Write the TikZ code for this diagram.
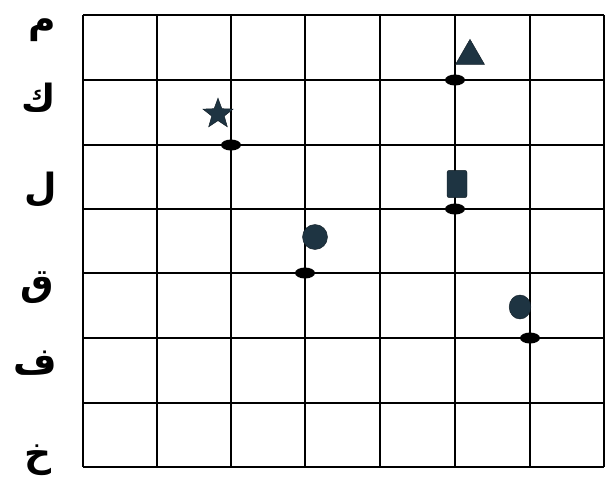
\documentclass[tikz,border=0pt]{standalone}
\usepackage{fontspec}
\newfontfamily\arabicfont[Script=Arabic]{DejaVu Sans}
\TeXXeTstate=1
\usetikzlibrary{shapes.geometric}
\definecolor{symbblue}{HTML}{1E3442}
\tikzset{
  gridline/.style={line width=2.5pt, black},
  letter/.style={font=\arabicfont\bfseries\fontsize{32}{36}\selectfont, inner sep=0pt},
  dot/.style={ellipse, fill=black, minimum width=0.6cm, minimum height=0.33cm, inner sep=0pt},
  symb/.style={fill=symbblue, draw=symbblue!60!black, inner sep=0pt}
}
\begin{document}
\begin{tikzpicture}[x=0.03cm, y=-0.03cm]
    \useasboundingbox (0,0) rectangle (606,500);

    \foreach \x in {83,157,231,305,380,455,530,604}
        \draw[gridline] (\x,15) -- (\x,467);
    \foreach \y in {15,80,145,209,273,338,403,467}
        \draw[gridline] (83,\y) -- (604,\y);

    \node[letter] (lblM) at (42,30) {\beginR م\endR};
    \node[letter] (lblK) at (39,98) {\beginR ك\endR};
    \node[letter] (lblL) at (41,190) {\beginR ل\endR};
    \node[letter] (lblQ) at (37,288) {\beginR ق\endR};
    \node[letter] (lblF) at (35,363) {\beginR ف\endR};
    \node[letter] (lblKh) at (38,460) {\beginR خ\endR};

    \node[dot] (dotA) at (231,145) {};
    \node[dot] (dotB) at (305,273) {};
    \node[dot] (dotC) at (455,80) {};
    \node[dot] (dotD) at (455,209) {};
    \node[dot] (dotE) at (530,338) {};

    \node[symb, star, star points=5, star point ratio=2.4, minimum size=0.95cm] (star) at (218,114) {};
    \node[symb, circle, minimum size=0.75cm] (disc) at (315,237) {};
    \node[symb, regular polygon, regular polygon sides=3, minimum size=1cm] (tri) at (470,56) {};
    \node[symb, rectangle, rounded corners=2pt, minimum width=0.6cm, minimum height=0.82cm] (box) at (457,184) {};
    \node[symb, ellipse, minimum width=0.65cm, minimum height=0.72cm] (blob) at (520,307) {};

\end{tikzpicture}
\end{document}
